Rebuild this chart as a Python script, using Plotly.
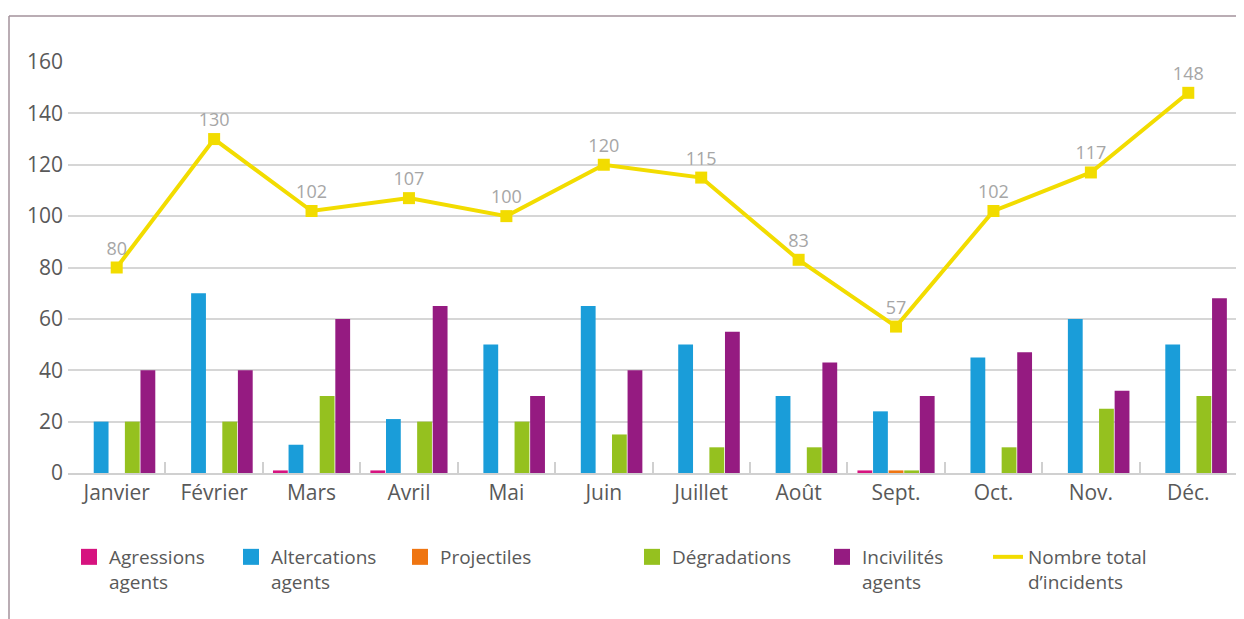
import plotly.graph_objects as go

months = ["Janvier", "Février", "Mars", "Avril", "Mai", "Juin", "Juillet",
          "Août", "Sept.", "Oct.", "Nov.", "Déc."]
agressions = [0, 0, 1, 1, 0, 0, 0, 0, 1, 0, 0, 0]
altercations = [20, 70, 11, 21, 50, 65, 50, 30, 24, 45, 60, 50]
projectiles = [0, 0, 0, 0, 0, 0, 0, 0, 1, 0, 0, 0]
degradations = [20, 20, 30, 20, 20, 15, 10, 10, 1, 10, 25, 30]
incivilites = [40, 40, 60, 65, 30, 40, 55, 43, 30, 47, 32, 68]
total = [80, 130, 102, 107, 100, 120, 115, 83, 57, 102, 117, 148]
y_ticks = [0, 20, 40, 60, 80, 100, 120, 140, 160]

FONT = "Open Sans"
TXT = "#595959"
YELLOW = "#f2dc00"

bar_series = [
    ("Agressions<br>agents", agressions, "#d6137f"),
    ("Altercations<br>agents", altercations, "#1a9dd9"),
    ("Projectiles", projectiles, "#ef7511"),
    ("Dégradations", degradations, "#95c11f"),
    ("Incivilités<br>agents", incivilites, "#951b81"),
]
line_name = "Nombre total<br>d’incidents"

# page offset (body margin) = 8 px; target screen coords used below
OFF = 8
W, H = 1244 - OFF, 619 - OFF
L, R, T = 68 - OFF, 7, 62 - OFF
B = H - (473 - OFF)
pw, ph = W - L - R, H - T - B


def px_x(x):
    return (x - OFF - L) / pw


def px_y(y):
    return (H - B - (y - OFF)) / ph


fig = go.Figure()
for name, vals, col in bar_series:
    fig.add_trace(go.Bar(x=months, y=vals, name=name, marker_color=col,
                         marker_line_width=0, showlegend=False))

fig.add_trace(go.Scatter(
    x=months, y=total, name=line_name,
    mode="lines+markers+text",
    line=dict(color=YELLOW, width=4),
    marker=dict(symbol="square", size=12, color=YELLOW),
    text=[str(v) for v in total], textposition="top center",
    textfont=dict(family=FONT, size=18, color="#a6a6a6"),
    showlegend=False, cliponaxis=False,
))

# legend entries, each in its own legend box (screen x of text start)
text_starts = [109, 271, 440, 672, 862, 1028]
leg_y = px_y(538)
legend_layouts = {}
for i, (name, vals, col) in enumerate(bar_series):
    key = "legend" if i == 0 else f"legend{i + 1}"
    fig.add_trace(go.Scatter(
        x=[None], y=[None], mode="markers", name=name,
        marker=dict(symbol="square", size=16, color=col),
        legend=key, showlegend=True))
    legend_layouts[key] = dict(
        x=px_x(text_starts[i] - 40), xanchor="left", y=leg_y,
        yanchor="top", orientation="h", valign="top",
        font=dict(family=FONT, size=19, color=TXT),
        bgcolor="rgba(0,0,0,0)", itemsizing="trace")
key = "legend6"
fig.add_trace(go.Scatter(
    x=[None], y=[None], mode="lines", name=line_name,
    line=dict(color=YELLOW, width=4), legend=key, showlegend=True))
legend_layouts[key] = dict(
    x=px_x(text_starts[5] - 40), xanchor="left", y=leg_y,
    yanchor="top", orientation="h", valign="top",
    font=dict(family=FONT, size=19, color=TXT),
    bgcolor="rgba(0,0,0,0)")

frame_col = "#a3929b"
fig.add_shape(type="line", xref="paper", yref="paper",
              x0=px_x(9), x1=px_x(1260), y0=px_y(16), y1=px_y(16),
              line=dict(color=frame_col, width=1.5))
fig.add_shape(type="line", xref="paper", yref="paper",
              x0=px_x(9), x1=px_x(9), y0=px_y(16), y1=px_y(640),
              line=dict(color=frame_col, width=1.5))

fig.update_layout(
    width=W, height=H,
    margin=dict(l=L, r=R, t=T, b=B, pad=0, autoexpand=False),
    paper_bgcolor="white", plot_bgcolor="white",
    barmode="group", bargap=0.2, bargroupgap=0.05,
    font=dict(family=FONT, color=TXT),
    showlegend=True,
    xaxis=dict(type="category", range=[-0.5, 11.5], autorange=False,
               showgrid=False, showline=True,
               linecolor="#d0d0d0", linewidth=2,
               ticks="inside", tickson="boundaries", ticklen=11,
               tickcolor="#d0d0d0", tickwidth=2,
               tickfont=dict(family=FONT, size=21, color=TXT),
               fixedrange=True),
    yaxis=dict(range=[0, 160], autorange=False, tickvals=y_ticks,
               showgrid=True, gridcolor="#d6d6d6", gridwidth=1.5,
               zeroline=False, showline=False, ticks="",
               ticklabelstandoff=4,
               tickfont=dict(family=FONT, size=21, color=TXT),
               fixedrange=True),
    **legend_layouts,
)

fig.write_html("out.html")
